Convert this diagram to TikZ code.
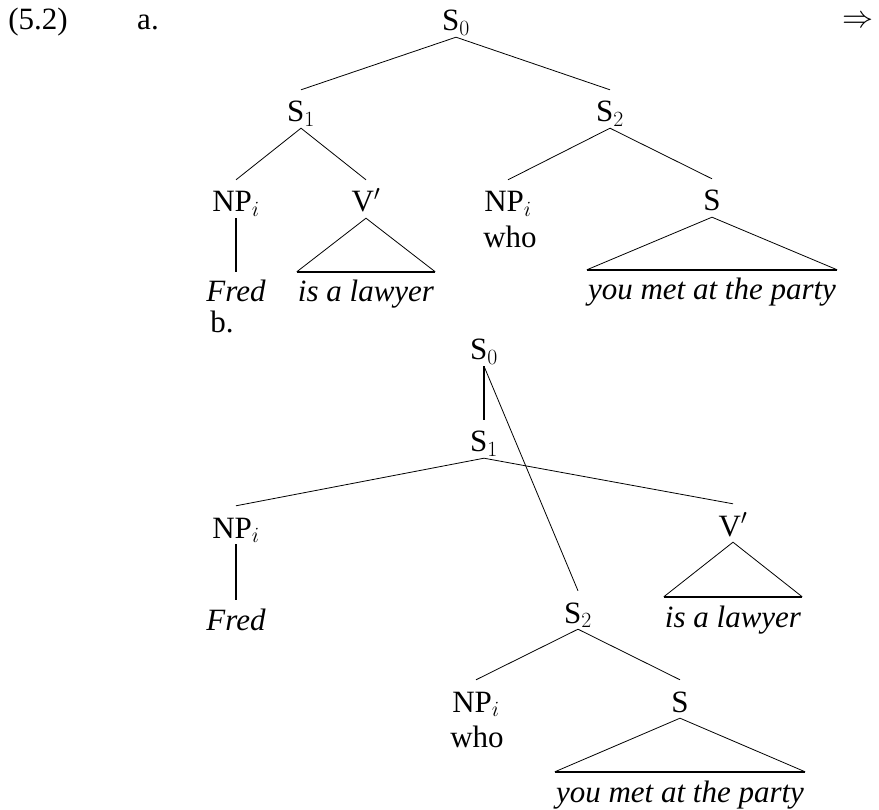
\documentclass[tikz,border=0pt]{standalone}
\usepackage{fix-cm}
\usepackage{fontspec}
\setmainfont{Liberation Serif}
\begin{document}
\begin{tikzpicture}[x=1pt,y=-1pt,
  every node/.style={font=\fontsize{31}{37}\selectfont},
  cat/.style={inner xsep=1pt,inner ysep=4pt,text height=28pt,text depth=2pt,anchor=base},
  leaf/.style={inner xsep=1pt,inner ysep=4pt,text height=26pt,text depth=2pt,anchor=base,
    font=\fontsize{31}{37}\selectfont\itshape},
  plain/.style={inner sep=0pt,anchor=base},
  branch/.style={line width=0.8pt},
  unary/.style={line width=1.6pt}]
\useasboundingbox (0,0) rectangle (879,810);

% example number and arrow
\node[plain] (ex) at (38,30) {(5.2)};
\node[plain] (la) at (148,30) {a.};
\node[inner sep=0pt] (arr) at (858,22) {$\Rightarrow$};

% tree (a)
\node[cat] (s0a) at (456,31) {S$_0$};
\node[cat] (s1a) at (301,122) {S$_1$};
\node[cat] (s2a) at (610,122) {S$_2$};
\node[cat] (npa) at (236,212) {NP$_i$};
\node[cat] (vpa) at (366,212) {V$'$};
\node[cat] (npwa) at (508,212) {NP$_i$};
\node[plain] (whoa) at (510,248) {who};
\node[cat] (sa) at (712,211) {S};
\node[leaf] (freda) at (236,302) {Fred};
\node[leaf] (lawa) at (366,302) {is a lawyer};
\node[leaf] (partya) at (712,300) {you met at the party};

\draw[branch] (s1a.north) -- (s0a.south) -- (s2a.north);
\draw[branch] (npa.north) -- (s1a.south) -- (vpa.north);
\draw[branch] (npwa.north) -- (s2a.south) -- (sa.north);
\draw[unary] (npa.south) -- (freda.north);
\draw[branch] (lawa.north west) -- (vpa.south) -- (lawa.north east);
\draw[unary] (lawa.north west) -- (lawa.north east);
\draw[branch] (partya.north west) -- (sa.south) -- (partya.north east);
\draw[unary] (partya.north west) -- (partya.north east);

% tree (b)
\node[plain] (lb) at (222,333) {b.};
\node[cat] (s0b) at (484,360) {S$_0$};
\node[cat] (s1b) at (484,452) {S$_1$};
\node[cat] (npb) at (236,538) {NP$_i$};
\node[cat] (vpb) at (733,536) {V$'$};
\node[leaf] (fredb) at (236,630) {Fred};
\node[leaf] (lawb) at (733,627) {is a lawyer};
\node[cat] (s2b) at (578,623) {S$_2$};
\node[cat] (npwb) at (476,712) {NP$_i$};
\node[plain] (whob) at (477,747) {who};
\node[cat] (sb) at (680,712) {S};
\node[leaf] (partyb) at (680,802) {you met at the party};

\draw[unary] (s0b.south) -- (s1b.north);
\draw[branch] (s0b.south) -- (s2b.north);
\draw[branch] (npb.north) -- (s1b.south) -- (vpb.north);
\draw[unary] (npb.south) -- (fredb.north);
\draw[branch] (lawb.north west) -- (vpb.south) -- (lawb.north east);
\draw[unary] (lawb.north west) -- (lawb.north east);
\draw[branch] (npwb.north) -- (s2b.south) -- (sb.north);
\draw[branch] (partyb.north west) -- (sb.south) -- (partyb.north east);
\draw[unary] (partyb.north west) -- (partyb.north east);
\end{tikzpicture}
\end{document}
